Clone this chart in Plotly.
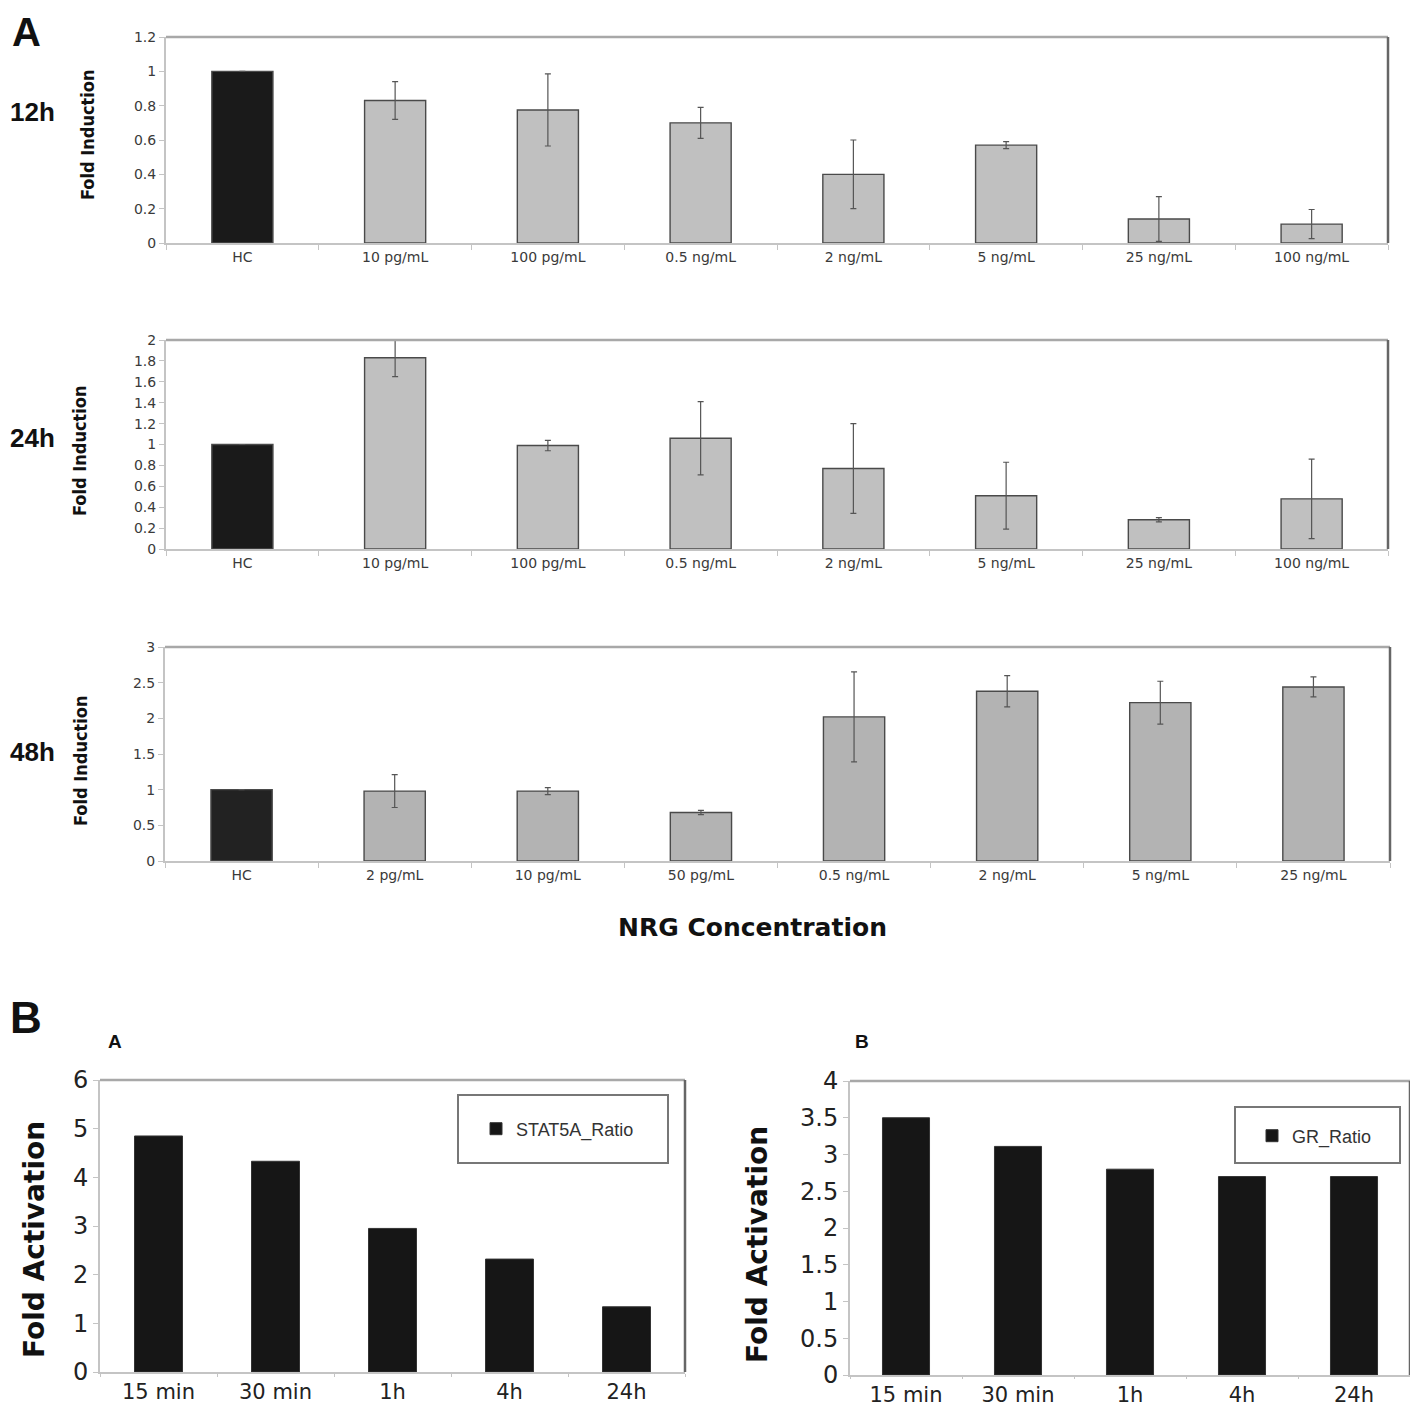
import plotly.graph_objects as go

# page body has an 8px margin, so the figure is drawn 16px smaller and
# reference pixel positions are shifted by that offset
OFF = 8
FW = 1402

# panel A data: NRG concentrations, fold induction and error bars
cats_12h = ["HC", "10 pg/mL", "100 pg/mL", "0.5 ng/mL", "2 ng/mL", "5 ng/mL", "25 ng/mL", "100 ng/mL"]
vals_12h = [1.0, 0.83, 0.775, 0.70, 0.40, 0.57, 0.14, 0.11]
err_12h = [0, 0.11, 0.21, 0.09, 0.20, 0.02, 0.13, 0.085]

cats_24h = ["HC", "10 pg/mL", "100 pg/mL", "0.5 ng/mL", "2 ng/mL", "5 ng/mL", "25 ng/mL", "100 ng/mL"]
vals_24h = [1.0, 1.83, 0.99, 1.06, 0.77, 0.51, 0.28, 0.48]
err_24h = [0, 0.18, 0.05, 0.35, 0.43, 0.32, 0.02, 0.38]

cats_48h = ["HC", "2 pg/mL", "10 pg/mL", "50 pg/mL", "0.5 ng/mL", "2 ng/mL", "5 ng/mL", "25 ng/mL"]
vals_48h = [1.0, 0.98, 0.98, 0.68, 2.02, 2.38, 2.22, 2.44]
err_48h = [0, 0.23, 0.05, 0.03, 0.63, 0.22, 0.30, 0.14]

# panel B data: fold activation over time
times = ["15 min", "30 min", "1h", "4h", "24h"]
stat5a = [4.85, 4.33, 2.95, 2.32, 1.34]
gr = [3.50, 3.11, 2.80, 2.70, 2.70]


def px(x):
    return (x - OFF) / FW


def py(y):
    return 1 - (y - OFF) / FW


def dx(a, b):
    return [max(px(a), 0), min(px(b), 1)]


def dy(top, bottom):
    return [max(py(bottom), 0), min(py(top), 1)]


fig = go.Figure()

panelA = [
    ("", cats_12h, vals_12h, err_12h, "#c0c0c0", "#1a1a1a"),
    ("2", cats_24h, vals_24h, err_24h, "#c0c0c0", "#1a1a1a"),
    ("3", cats_48h, vals_48h, err_48h, "#b3b3b3", "#222222"),
]
for ax, cats, vals, errs, col, hc in panelA:
    fig.add_trace(go.Bar(
        x=cats, y=vals, xaxis="x" + ax, yaxis="y" + ax, showlegend=False,
        marker=dict(color=[hc] + [col] * (len(cats) - 1),
                    line=dict(color="#4a4a4a", width=1.4)),
        error_y=dict(type="data", array=errs, visible=True,
                     color="#555555", thickness=1.2, width=3),
        width=0.4,
    ))

fig.add_trace(go.Bar(x=times, y=stat5a, xaxis="x4", yaxis="y4", name="STAT5A_Ratio",
                     marker=dict(color="#161616", line=dict(color="#333", width=1)),
                     width=0.41, legend="legend"))
fig.add_trace(go.Bar(x=times, y=gr, xaxis="x5", yaxis="y5", name="GR_Ratio",
                     marker=dict(color="#161616", line=dict(color="#333", width=1)),
                     width=0.42, legend="legend2"))

tickA = dict(family="DejaVu Sans", size=14, color="#3a3a3a")
tickB = dict(family="DejaVu Sans", size=24, color="#222222")
tickBx = dict(family="DejaVu Sans", size=21, color="#222222")


def xa(dom, font, tl=5):
    return dict(domain=dom, showline=True, linecolor="#c4c4c4", linewidth=2,
                ticks="outside", tickson="boundaries", ticklen=tl, tickcolor="#c4c4c4",
                tickfont=font, showgrid=False, zeroline=False, fixedrange=True,
                automargin=False)


def ya(dom, rng, dt, font):
    return dict(domain=dom, range=rng, dtick=dt, showline=True, linecolor="#c4c4c4",
                linewidth=2, ticks="outside", ticklen=5, tickcolor="#c4c4c4",
                tickfont=font, showgrid=False, zeroline=False, fixedrange=True,
                automargin=False)


lay = {}
boxes = [
    ("", (166, 1388), (37, 243), [0, 1.2], 0.2, tickA, tickA, 5),
    ("2", (166, 1388), (340, 549), [0, 2], 0.2, tickA, tickA, 5),
    ("3", (165, 1390), (647, 861), [0, 3], 0.5, tickA, tickA, 5),
    ("4", (100, 685), (1080, 1372), [0, 6], 1, tickBx, tickB, 3),
    ("5", (850, 1412), (1081, 1375), [0, 4], 0.5, tickBx, tickB, 2),
]
shapes = []
for ax, (l, r), (t, b), rng, dt, fx, fy, tl in boxes:
    xk = "xaxis" + ax
    yk = "yaxis" + ax
    lay[xk] = xa(dx(l, r), fx, tl)
    lay[xk]["anchor"] = "y" + ax
    lay[yk] = ya(dy(t, b), rng, dt, fy)
    lay[yk]["anchor"] = "x" + ax
    # top and right frame lines
    shapes.append(dict(type="line", xref="x%s domain" % ax, yref="y%s domain" % ax,
                       x0=0, x1=1, y0=1, y1=1, line=dict(color="#a8a8a8", width=2.5)))
    shapes.append(dict(type="line", xref="x%s domain" % ax, yref="y%s domain" % ax,
                       x0=1, x1=1, y0=0, y1=1, line=dict(color="#666666", width=2.5)))

# legend boxes in panel B
shapes.append(dict(type="rect", xref="paper", yref="paper", x0=px(458), x1=px(668),
                   y0=py(1163), y1=py(1095), line=dict(color="#777", width=2)))
shapes.append(dict(type="rect", xref="paper", yref="paper", x0=px(1235), x1=px(1400),
                   y0=py(1163), y1=py(1107), line=dict(color="#777", width=2)))

ann = []


def txt(x, y, s, size, family="Liberation Sans", angle=0, color="#111"):
    ann.append(dict(x=px(x), y=py(y), xref="paper", yref="paper", text=s,
                    showarrow=False, textangle=angle, xanchor="center", yanchor="middle",
                    font=dict(family=family, size=size, color=color)))


txt(26, 32, "<b>A</b>", 40)
txt(26, 1017, "<b>B</b>", 44)
txt(32, 112, "<b>12h</b>", 26)
txt(32, 438, "<b>24h</b>", 26)
txt(32, 752, "<b>48h</b>", 26)
condensed = "DejaVu Sans Condensed, Liberation Sans Narrow, DejaVu Sans"
txt(88, 135, "<b>Fold Induction</b>", 18, family=condensed, angle=-90)
txt(80, 451, "<b>Fold Induction</b>", 18, family=condensed, angle=-90)
txt(80, 761, "<b>Fold Induction</b>", 18, family=condensed, angle=-90)
txt(752, 927, "<b>NRG Concentration</b>", 25, family="DejaVu Sans")
txt(115, 1041, "<b>A</b>", 19)
txt(862, 1041, "<b>B</b>", 19)
txt(34, 1240, "<b>Fold Activation</b>", 28, family="DejaVu Sans", angle=-90)
txt(757, 1245, "<b>Fold Activation</b>", 28, family="DejaVu Sans", angle=-90)

legfont = dict(family="Liberation Sans", size=18, color="#333")
fig.update_layout(
    width=FW, height=FW, margin=dict(l=0, r=0, t=0, b=0),
    paper_bgcolor="white", plot_bgcolor="white",
    shapes=shapes, annotations=ann,
    legend=dict(x=px(476), y=py(1129), xanchor="left", yanchor="middle",
                bgcolor="rgba(0,0,0,0)", font=legfont, itemwidth=30),
    legend2=dict(x=px(1252), y=py(1136), xanchor="left", yanchor="middle",
                 bgcolor="rgba(0,0,0,0)", font=legfont, itemwidth=30),
    **lay,
)

fig.write_html("out.html")
